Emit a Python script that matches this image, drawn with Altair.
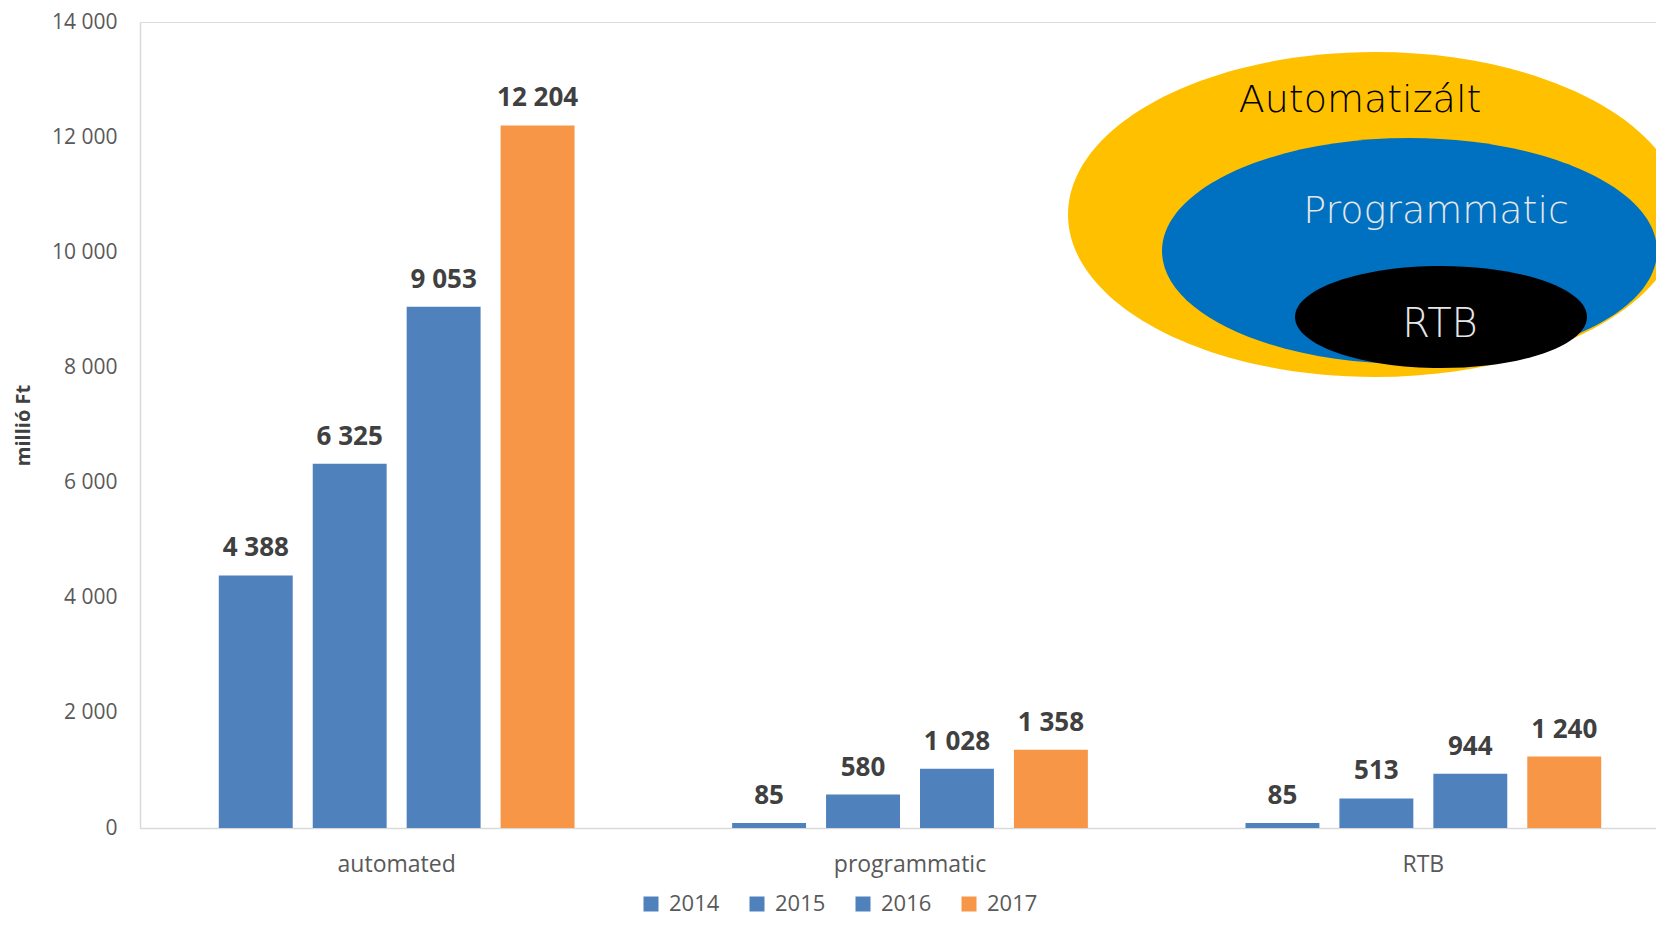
import altair as alt
import pandas as pd

categories = ["automated", "programmatic", "RTB"]
years = ["2014", "2015", "2016", "2017"]
values_2014 = [4388, 85, 85]
values_2015 = [6325, 580, 513]
values_2016 = [9053, 1028, 944]
values_2017 = [12204, 1358, 1240]
year_colors = ["#4F81BD", "#4F81BD", "#4F81BD", "#F79646"]
y_ticks = [0, 2000, 4000, 6000, 8000, 10000, 12000, 14000]
diagram_labels = ["Automatizált", "Programmatic", "RTB"]
diagram_colors = ["#FFC000", "#0070C0", "#000000"]

rows = []
for yr, vals in zip(years, [values_2014, values_2015, values_2016, values_2017]):
    for c, v in zip(categories, vals):
        rows.append({"category": c, "year": yr, "value": v})
df = pd.DataFrame(rows)

FMT = "replace(format(datum.value, ','), ',', ' ')"

x_enc = alt.X(
    "category:N", sort=categories,
    scale=alt.Scale(range=[0, 1540], paddingInner=0.307, paddingOuter=0.1535),
    axis=alt.Axis(title=None, labelAngle=0, ticks=False, labelPadding=25,
                  labelFont="Open Sans", labelFontSize=23, labelColor="#595959",
                  domainColor="#d9d9d9", domainWidth=1.5),
)
xo_enc = alt.XOffset("year:N", sort=years, scale=alt.Scale(paddingInner=0.213, paddingOuter=0))
y_enc = alt.Y(
    "value:Q",
    scale=alt.Scale(domain=[0, 14000], nice=False),
    axis=alt.Axis(values=y_ticks, labelExpr=FMT, grid=False, ticks=False,
                  domainColor="#d9d9d9", domainWidth=1.5,
                  labelFont="Open Sans", labelFontSize=21, labelColor="#595959",
                  labelPadding=23, labelFlush=False, labelOverlap=False,
                  title="millió Ft", titleFont="Open Sans", titleFontSize=20,
                  titleFontWeight="bold", titleColor="#404040",
                  titleX=-117, titleY=403, titleAngle=270,
                  titleAlign="center", titleBaseline="middle"),
)

base = alt.Chart(df)

bars = base.mark_bar().encode(
    x=x_enc, xOffset=xo_enc, y=y_enc,
    color=alt.Color(
        "year:N", sort=years,
        scale=alt.Scale(domain=years, range=year_colors),
        legend=alt.Legend(title=None, orient="none", legendX=500, legendY=871,
                          direction="horizontal", symbolType="square", symbolSize=225,
                          symbolStrokeWidth=0, symbolOpacity=1,
                          labelFont="Open Sans", labelFontSize=22, labelColor="#595959",
                          columnPadding=26, labelOffset=7, padding=0),
    ),
)

labels = base.transform_calculate(label=FMT).mark_text(
    font="Open Sans", fontSize=26, fontWeight="bold", color="#404040",
    baseline="alphabetic", align="center", dy=-19,
).encode(x=x_enc, xOffset=xo_enc, y=y_enc, text="label:N")


def ellipse_path(k):
    c = 0.5523
    return (f"M 1 0 C 1 {c*k:.4f} {c:.4f} {k:.4f} 0 {k:.4f} "
            f"C {-c:.4f} {k:.4f} -1 {c*k:.4f} -1 0 "
            f"C -1 {-c*k:.4f} {-c:.4f} {-k:.4f} 0 {-k:.4f} "
            f"C {c:.4f} {-k:.4f} 1 {-c*k:.4f} 1 0 Z")


one = alt.Chart(pd.DataFrame({"k": [0]}))

# decorative inset diagram: (center x, center y, half width, half height)
ell_geom = [(1235, 192.5, 307, 162.5), (1269.5, 229, 247.5, 113), (1301, 295, 146, 51)]
ellipses = []
for (cx, cy, a, b), col in zip(ell_geom, diagram_colors):
    ellipses.append(
        one.mark_point(shape=ellipse_path(b / a), filled=True, opacity=1,
                       strokeWidth=0, color=col).encode(
            x=alt.value(cx), y=alt.value(cy), size=alt.value((2 * a) ** 2))
    )

text_geom = [(1220, 90, "#000000", 38), (1296, 201, "#E6E6E6", 38), (1300, 315, "#E6E6E6", 40)]
texts = []
for (tx, ty, tc, fs), lab in zip(text_geom, diagram_labels):
    texts.append(
        one.mark_text(text=lab, font="DejaVu Sans", fontSize=fs, fontWeight=200, color=tc,
                      align="center", baseline="alphabetic").encode(
            x=alt.value(tx), y=alt.value(ty))
    )

chart = alt.layer(bars, labels, *ellipses, *texts).properties(
    width=1516, height=806,
    autosize=alt.AutoSizeParams(type="none"),
    padding={"left": 132, "top": 14, "right": 0, "bottom": 92},
).configure_view(stroke=None).configure(background="white")

chart.save("out.html", embed_options={"renderer": "svg", "actions": False})
